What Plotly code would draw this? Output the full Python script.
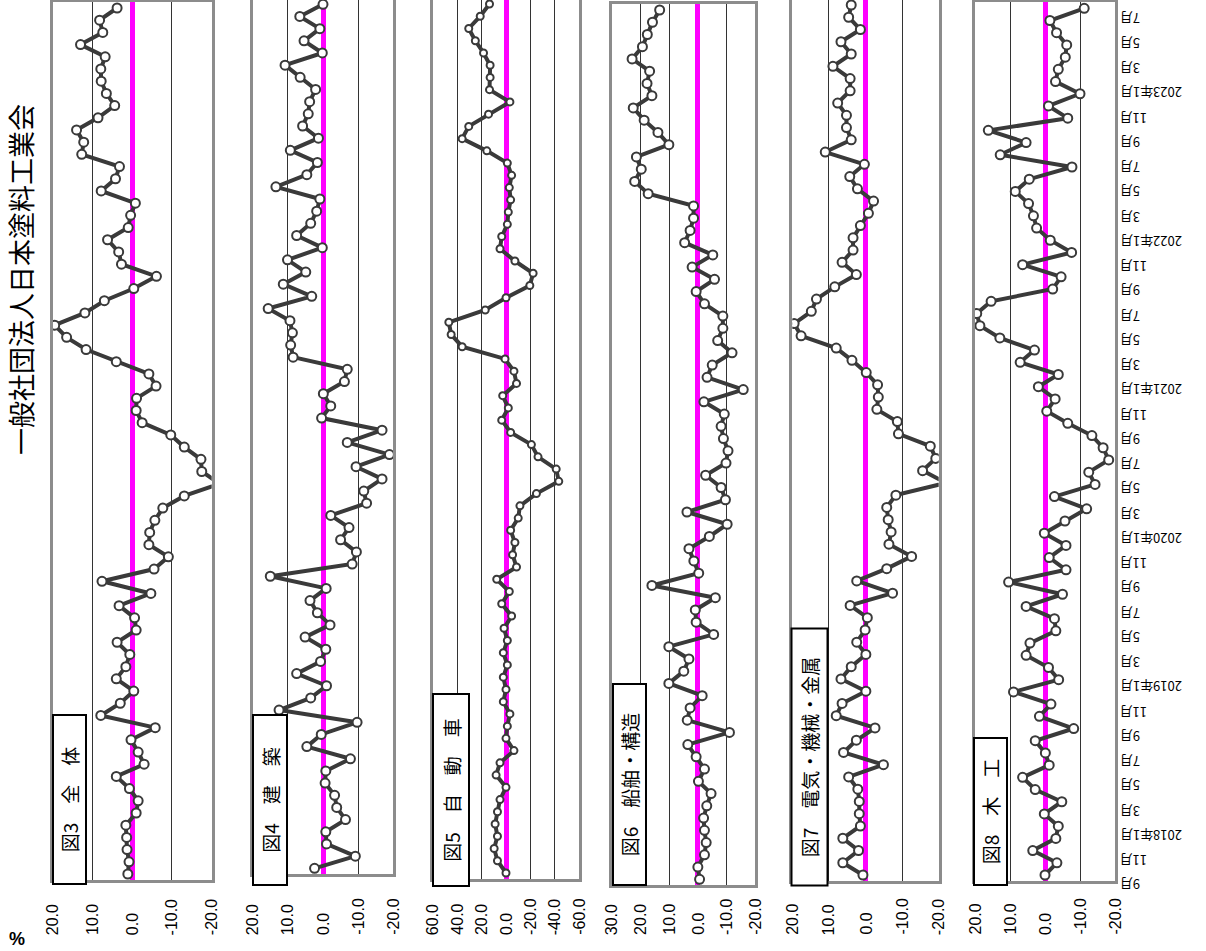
import plotly.graph_objects as go

W, H = 1206, 951


def fx(px):
    return px / W


def fy(py):
    return 1 - py / H


# ---- categories (monthly, 2017/09 .. 2023/08) ----
categories = []
_y, _m = 2017, 9
for _ in range(72):
    categories.append(f"{_y}/{_m:02d}")
    _m += 1
    if _m > 12:
        _m, _y = 1, _y + 1

month_labels = ["9月", "11月", "2018年1月", "3月", "5月", "7月", "9月", "11月",
                "2019年1月", "3月", "5月", "7月", "9月", "11月",
                "2020年1月", "3月", "5月", "7月", "9月", "11月",
                "2021年1月", "3月", "5月", "7月", "9月", "11月",
                "2022年1月", "3月", "5月", "7月", "9月", "11月",
                "2023年1月", "3月", "5月", "7月"]

# ---- series values (% change) ----
zentai = [1.1, 0.8, 1.3, 1.4, 1.6, -1.0, -1.5, 0.7, 4.0, -3.0, -1.5, 0.3, -5.8, 7.9, 3.0, -0.4,
          4.0, 1.6, 0.6, 3.8, -1.0, -0.6, 3.3, -4.7, 7.6, -5.5, -9.1, -4.2, -4.4, -5.7, -7.7, -13.1,
          -22.0, -17.5, -17.3, -13.1, -9.7, -2.5, -1.0, -1.1, -6.0, -4.2, 4.0, 11.6, 16.5, 19.5,
          11.9, 7.0, -0.4, -6.1, 2.7, 3.4, 6.2, 1.0, 0.4, -0.8, 7.8, 4.2, 3.2, 12.7, 12.2, 14.0,
          8.6, 4.4, 6.5, 7.8, 7.9, 6.8, 13.0, 7.4, 8.2, 3.8]

kenchiku = [2.4, -9.2, -1.0, -0.8, -6.4, -3.9, -3.3, -0.6, -0.8, -7.8, 4.6, 0.5, -9.7, 12.5, 3.5, -1.0,
            7.5, 0.7, -0.8, 5.1, -2.0, 1.6, 3.7, -0.9, 15.0, -8.3, -9.5, -5.0, -7.4, -2.2, -12.4, -11.6,
            -16.8, -9.4, -18.9, -6.9, -16.8, 0.4, -2.2, -0.1, -6.1, -6.9, 8.5, 9.2, 8.7, 9.4,
            15.6, 3.2, 11.3, 4.9, 10.1, 0.2, 7.5, 3.5, 1.8, 0.9, 13.4, 4.6, 1.6, 9.3, 1.3, 5.8,
            4.2, 3.8, 2.1, 6.5, 10.8, 0.2, 5.4, 0.9, 6.6, 0.0]

jidousha = [0.0, 7.0, 9.7, 7.0, 8.9, 7.0, 4.9, 0.0, 8.1, 4.9, -6.5, 0.0, -1.1, -3.2, 2.2, 0.0,
            2.2, -1.1, 2.2, -1.1, 1.6, -4.6, 3.5, -2.7, 7.6, -8.6, -5.4, -7.3, -3.8, -10.0, -11.4, -24.9,
            -43.2, -41.1, -26.2, -20.8, -3.8, 3.5, -1.9, 2.7, -8.6, -6.5, 0.8, 35.9, 44.9, 46.8,
            17.0, 0.0, -19.5, -22.2, -7.3, 4.9, 3.5, -1.1, -1.9, -3.8, -2.7, -4.6, -1.1, 15.7, 35.9, 30.5,
            14.3, -3.2, 13.5, 13.0, 13.0, 18.4, 25.1, 30.5, 21.1, 13.5]

senpaku = [-0.6, 0.0, -2.3, -2.9, -2.3, -2.0, -3.1, -4.6, -0.2, -2.3, 0.6, 3.5, -11.0, 3.7, 2.7, -1.5,
           10.1, 4.9, 3.1, 10.1, -5.5, 0.6, 0.9, -6.1, 16.0, -0.3, 1.4, 3.1, -4.0, -10.2, 3.8, -9.6,
           -8.1, -2.7, -9.8, -10.5, -8.9, -8.1, -9.2, -2.1, -15.8, -3.2, -5.0, -11.9, -6.9, -8.7,
           -8.7, -2.3, 0.6, -5.8, 2.0, -5.2, 4.6, 2.7, 1.5, 1.5, 17.3, 22.0, 19.7, 21.4, 10.1, 13.9,
           18.7, 22.5, 16.0, 17.7, 16.8, 22.9, 19.3, 17.6, 15.8, 13.3]

denki = [0.7, 6.2, 1.9, 6.2, 1.4, 1.7, 1.7, 2.1, 4.6, -4.9, 6.0, 2.5, -2.6, 8.0, 6.4, -0.1,
         6.7, 3.9, -0.1, 2.4, 0.1, -0.5, 4.2, -7.4, 2.4, -5.8, -12.6, -6.4, -7.0, -6.2, -5.8, -8.3,
         -22.0, -15.6, -19.2, -17.7, -9.0, -8.7, -3.1, -3.5, -3.3, -0.2, 3.7, 8.0, 17.6, 19.5,
         14.8, 13.4, 8.4, 2.5, 6.4, 3.4, 3.4, 1.4, -0.8, -2.2, 2.2, 4.3, 0.3, 11.0, 3.9, 5.2,
         5.2, 7.6, 4.2, 4.2, 8.9, 3.9, 6.7, 1.4, 4.6, 3.9]

mokkou = [0.0, -3.4, 3.5, -3.1, -3.8, 0.2, -4.8, 2.8, 6.4, -1.2, -0.1, 2.8, -8.2, 1.6, -1.7, 9.0,
          -3.9, -1.0, 5.4, 4.3, -3.1, -2.7, 5.4, -5.0, 10.4, -6.0, -1.2, -6.0, 0.2, -5.7, -11.9, -2.7,
          -14.3, -12.5, -18.2, -16.6, -13.4, -6.5, -0.5, -2.9, 1.9, -3.8, 7.1, 3.0, 12.9, 18.6,
          19.5, 15.4, -2.2, -4.6, 6.4, -7.6, -1.5, 2.4, 3.3, 4.7, 8.5, 4.5, -7.7, 12.8, 5.4, 16.2,
          -6.5, -1.0, -10.0, -3.0, -3.8, -5.8, -6.2, -3.3, -1.4, -11.2]

# ---- panel geometry (reference-page pixels) ----
panels = [
    dict(vals=zentai, name="図3　全　体", x0=52.7, x1=211.7, vmax=20, vmin=-20,
         ticks=[20, 10, 0, -10, -20], i0=874.0, i71=8.0, box=(52, 87, 714, 885), ms=9),
    dict(vals=kenchiku, name="図4　建　築", x0=252.7, x1=393.3, vmax=20, vmin=-20,
         ticks=[20, 10, 0, -10, -20], i0=868.3, i71=4.3, box=(252, 288, 714, 886), ms=9),
    dict(vals=jidousha, name="図5　自　動　車", x0=432.7, x1=579.3, vmax=60, vmin=-60,
         ticks=[60, 40, 20, 0, -20, -40, -60], i0=873.0, i71=4.0, box=(432, 470, 693, 887), ms=7),
    dict(vals=senpaku, name="図6　船舶・構造", x0=611.7, x1=755.3, vmax=30, vmin=-20,
         ticks=[30, 20, 10, 0, -10, -20], i0=879.3, i71=10.0, box=(612, 647, 683, 886), ms=9),
    dict(vals=denki, name="図7　電気・機械・金属", x0=792.3, x1=938.7, vmax=20, vmin=-20,
         ticks=[20, 10, 0, -10, -20], i0=875.0, i71=5.0, box=(790, 828, 628, 887), ms=9),
    dict(vals=mokkou, name="図8　木　工", x0=975.0, x1=1115.0, vmax=20, vmin=-20,
         ticks=[20, 10, 0, -10, -20], i0=875.0, i71=8.3, box=(973, 1008, 737, 886), ms=9),
]

FRAME = "#8c8c8c"
LINE = "#3a3a3a"
JP = "Noto Sans CJK JP"

fig = go.Figure()
layout = dict(width=W, height=H, margin=dict(l=0, r=0, t=0, b=0), autosize=False,
              paper_bgcolor="white", plot_bgcolor="white", showlegend=False)
annotations = []


def ydomain(i0, i71):
    sp = (i0 - i71) / 71.0
    ybot = i0 + sp / 2
    ytop = i71 - sp / 2
    rtop = 71.5
    cut = False
    if ytop < 0:
        rtop = 71.5 - (-ytop) / sp
        ytop = 0.0
        cut = True
    return [fy(ybot), fy(ytop)], [-0.5, rtop], cut


for k, p in enumerate(panels, start=1):
    dom, rng, cut = ydomain(p["i0"], p["i71"])
    xa = "xaxis" if k == 1 else f"xaxis{k}"
    ya = "yaxis" if k == 1 else f"yaxis{k}"
    xr = "x" if k == 1 else f"x{k}"
    yr = "y" if k == 1 else f"y{k}"
    layout[xa] = dict(
        domain=[fx(p["x0"]), fx(p["x1"])], range=[p["vmax"], p["vmin"]], anchor=yr,
        tickmode="array", tickvals=p["ticks"], showticklabels=False,
        showgrid=True, gridcolor="#333333", gridwidth=1,
        zeroline=True, zerolinecolor="#FF00FF", zerolinewidth=5,
        showline=True, linecolor=FRAME, linewidth=2.5, mirror=(not cut),
        ticks="", fixedrange=True)
    layout[ya] = dict(
        domain=dom, range=rng, anchor=xr,
        type="category", categoryorder="array", categoryarray=categories,
        showticklabels=False, showgrid=False, zeroline=False, ticks="",
        showline=True, linecolor=FRAME, linewidth=2.5, mirror=True, fixedrange=True)
    fig.add_trace(go.Scatter(
        x=p["vals"], y=categories, xaxis=xr, yaxis=yr, mode="lines+markers",
        line=dict(color=LINE, width=4),
        marker=dict(size=p["ms"], color="white", line=dict(color=LINE, width=2)),
        cliponaxis=True, hoverinfo="skip"))
    # value-axis tick labels (rotated, bottom aligned like the source page)
    for t in p["ticks"]:
        annotations.append(dict(
            xref=xr, yref="paper", x=t, y=fy(937), xanchor="center", yanchor="bottom",
            showarrow=False, textangle=-90, text=f"{t:.1f}",
            font=dict(family="Liberation Sans", size=16, color="black")))
    bx0, bx1, by0, by1 = p["box"]
    annotations.append(dict(
        xref="paper", yref="paper", x=fx((bx0 + bx1) / 2), y=fy((by0 + by1) / 2),
        xanchor="center", yanchor="middle", showarrow=False, textangle=-90,
        text=p["name"], font=dict(family=JP, size=19, color="black"),
        bgcolor="white", bordercolor="black", borderwidth=2, borderpad=0,
        width=(by1 - by0) - 4, height=(bx1 - bx0) - 4))

# hidden category axis carrying the month labels printed along the right edge
lab0, lab70 = 885.0, 19.0
lsp = (lab0 - lab70) / 70.0
ldom, lrng, _ = ydomain(lab0, lab0 - 71 * lsp)
layout["xaxis7"] = dict(domain=[0.93, 1.0], anchor="y7", visible=False, range=[0, 1], fixedrange=True)
layout["yaxis7"] = dict(domain=ldom, range=lrng, anchor="x7", visible=False, type="category",
                        categoryorder="array", categoryarray=categories, fixedrange=True)
fig.add_trace(go.Scatter(x=[], y=[], xaxis="x7", yaxis="y7", mode="markers", hoverinfo="skip"))

for j, lab in enumerate(month_labels):
    annotations.append(dict(
        xref="paper", yref="y7", x=fx(1118), y=categories[2 * j],
        xanchor="left", yanchor="middle", showarrow=False, textangle=180,
        text=lab, font=dict(family=JP, size=13, color="black")))

annotations.append(dict(
    xref="paper", yref="paper", x=fx(21), y=fy(280), xanchor="center", yanchor="middle",
    showarrow=False, textangle=-90, text="一般社団法人日本塗料工業会",
    font=dict(family=JP, size=27, color="black")))
annotations.append(dict(
    xref="paper", yref="paper", x=fx(17), y=fy(939), xanchor="center", yanchor="middle",
    showarrow=False, text="<b>%</b>", font=dict(family="Liberation Sans", size=18, color="black")))

layout["annotations"] = annotations
fig.update_layout(**layout)

fig.write_html(
    "out.html",
    config={"displayModeBar": False, "responsive": False},
    post_script=("document.body.style.margin='0px';document.body.style.padding='0px';"
                 "document.body.style.overflow='hidden';"))
